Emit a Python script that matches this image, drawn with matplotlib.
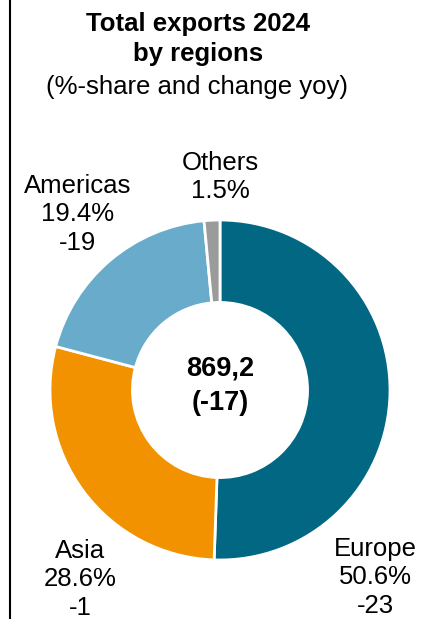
import matplotlib.pyplot as plt
from matplotlib.lines import Line2D

# data
regions = ['Europe', 'Asia', 'Americas', 'Others']
shares = [50.6, 28.6, 19.4, 1.5]
changes = ['-23', '-1', '-19', '']
colors = ['#016782', '#F39200', '#68ABCB', '#9B9B9B']
total_value = '869,2'
total_change = '(-17)'

plt.rcParams['font.family'] = ['Liberation Sans', 'DejaVu Sans']
FS = 18.5

W, H = 438, 619
fig = plt.figure(figsize=(W / 100, H / 100), dpi=100)

# donut centred at (220, 390) px, radius 170 px, hole ~88 px
cx, cy, r = 220, 390, 170
ax = fig.add_axes([(cx - r) / W, (H - cy - r) / H, 2 * r / W, 2 * r / H])
ax.pie(shares, colors=colors, startangle=90, counterclock=False,
       radius=1, wedgeprops=dict(width=0.485, edgecolor='white', linewidth=2))
ax.set_xlim(-1, 1)
ax.set_ylim(-1, 1)
ax.set_aspect('equal')
ax.axis('off')


def px(x, y):
    return x / W, 1 - y / H


def lines(x, y0, step, texts, fs=FS, **kw):
    for i, t in enumerate(texts):
        fig.text(*px(x, y0 + i * step), t, ha='center', va='center', fontsize=fs, **kw)


# centre figure
lines(cx, 369, 34, [total_value, total_change], fs=19.5, fontweight='bold')

# title
lines(198, 24, 30, ['Total exports 2024', 'by regions'], fontweight='bold')
lines(197, 87, 30, ['(%-share and change yoy)'])

# slice labels
label_pos = {'Europe': (375, 549), 'Asia': (80, 551), 'Americas': (78, 186), 'Others': (220, 163)}
for name, share, ch in zip(regions, shares, changes):
    texts = [name, f'{share}%']
    if ch:
        texts.append(ch)
    x, y = label_pos[name]
    lines(x, y, 28.5, texts)

# left border line
fig.add_artist(Line2D([9.5 / W, 9.5 / W], [0, 1], color='black', linewidth=1.5,
                      transform=fig.transFigure))

fig.savefig('out.png', dpi=100)
